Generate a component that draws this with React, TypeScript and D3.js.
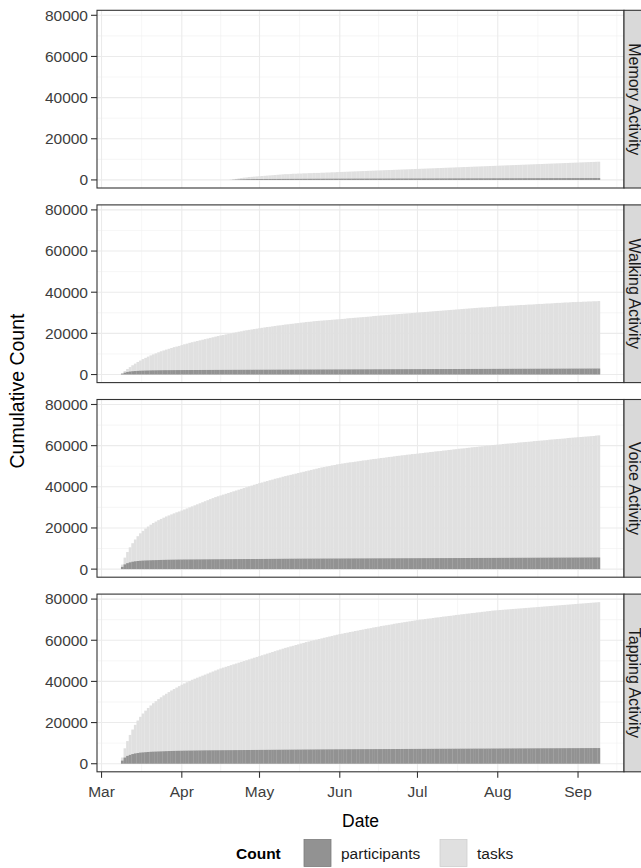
import React from "react";
import * as d3 from "d3";

// ---------------- data ----------------
const activityNames = ["Memory Activity", "Walking Activity", "Voice Activity", "Tapping Activity"];
const activityStarts = ["2015-04-20", "2015-03-09", "2015-03-09", "2015-03-09"];
const countLevels = ["participants", "tasks"];

const memoryTasks = [
  100, 300, 500, 700, 900, 1100, 1200, 1400, 1500, 1600, 1700,
  1800, 1900, 2000, 2100, 2200, 2300, 2400, 2500, 2600, 2700, 2800, 2800, 2900, 3000, 3000, 3100, 3100, 3200, 3200, 3300, 3300, 3400, 3400, 3400, 3500, 3500, 3600, 3600, 3700, 3700, 3800,
  3850, 3900, 3950, 4000, 4050, 4100, 4150, 4200, 4250, 4300, 4350, 4400, 4450, 4500, 4550, 4600, 4650, 4700, 4750, 4800, 4850, 4900, 4950, 5000, 5050, 5100, 5150, 5200, 5250, 5300,
  5350, 5400, 5450, 5500, 5550, 5600, 5650, 5700, 5750, 5800, 5850, 5900, 5950, 6000, 6050, 6100, 6150, 6200, 6250, 6300, 6350, 6400, 6450, 6500, 6550, 6600, 6650, 6700, 6750, 6800, 6850,
  6900, 6950, 7000, 7050, 7100, 7150, 7200, 7250, 7300, 7350, 7400, 7450, 7500, 7550, 7600, 7650, 7700, 7750, 7800, 7850, 7900, 7950, 8000, 8050, 8100, 8150, 8200, 8250, 8300, 8350, 8400,
  8450, 8500, 8550, 8600, 8650, 8700, 8750, 8800, 8850,
];
const memoryParticipants = [
  30, 100, 170, 230, 280, 320, 350, 380, 400, 420, 440,
  450, 455, 460, 465, 470, 475, 480, 485, 490, 495, 500, 505, 510, 515, 520, 525, 530, 535, 540, 545, 550, 555, 560, 565, 570, 575, 580, 585, 590, 595, 600,
  603, 606, 609, 612, 615, 618, 621, 624, 627, 630, 633, 636, 639, 642, 645, 648, 651, 654, 657, 660, 663, 666, 669, 672, 675, 678, 681, 684, 687, 690,
  693, 696, 699, 702, 705, 708, 711, 714, 717, 720, 723, 726, 729, 732, 735, 738, 741, 744, 747, 750, 753, 756, 759, 762, 765, 768, 771, 774, 777, 780, 783,
  786, 789, 792, 795, 798, 801, 804, 807, 810, 813, 816, 819, 822, 825, 828, 831, 834, 837, 840, 843, 846, 849, 852, 855, 858, 861, 864, 867, 870, 873, 876,
  879, 882, 885, 888, 891, 894, 897, 900, 903,
];

const walkingTasks = [
  600, 1700, 2700, 3600, 4500, 5300, 6100, 6800, 7500, 8100, 8700, 9300, 9800, 10300, 10800, 11300, 11700, 12100, 12500, 12900, 13300, 13600, 13900,
  14300, 14700, 15000, 15400, 15700, 16000, 16300, 16600, 16900, 17200, 17500, 17800, 18100, 18400, 18700, 19000, 19200, 19500, 19800, 20000, 20300, 20500, 20800, 21000, 21300, 21500, 21700, 21900, 22100, 22300,
  22500, 22700, 22900, 23100, 23200, 23400, 23600, 23800, 23900, 24100, 24300, 24400, 24600, 24700, 24900, 25000, 25200, 25300, 25500, 25600, 25700, 25900, 26000, 26100, 26200, 26300, 26400, 26500, 26600, 26700, 26800,
  26900, 27000, 27100, 27300, 27400, 27500, 27600, 27700, 27800, 27900, 28000, 28100, 28200, 28400, 28500, 28600, 28700, 28800, 28900, 29000, 29100, 29200, 29300, 29400, 29500, 29600, 29700, 29800, 29900, 30000,
  30100, 30200, 30300, 30400, 30500, 30600, 30700, 30800, 30900, 31000, 31100, 31200, 31300, 31400, 31500, 31600, 31700, 31800, 31900, 32000, 32100, 32200, 32300, 32400, 32500, 32600, 32600, 32700, 32800, 32900, 33000,
  33100, 33200, 33200, 33300, 33400, 33500, 33500, 33600, 33700, 33800, 33800, 33900, 34000, 34000, 34100, 34200, 34300, 34300, 34400, 34500, 34500, 34600, 34700, 34800, 34800, 34900, 35000, 35000, 35100, 35200, 35200,
  35300, 35300, 35400, 35400, 35500, 35500, 35600, 35600, 35700,
];
const walkingParticipants = [
  400, 900, 1250, 1450, 1600, 1700, 1780, 1840, 1890, 1930, 1970, 2000, 2020, 2040, 2060, 2080, 2100, 2110, 2120, 2130, 2140, 2150, 2160,
  2170, 2175, 2180, 2185, 2190, 2195, 2200, 2205, 2210, 2215, 2220, 2225, 2230, 2235, 2240, 2245, 2250, 2255, 2260, 2265, 2270, 2275, 2280, 2285, 2290, 2295, 2300, 2305, 2310, 2315,
  2320, 2325, 2330, 2335, 2340, 2345, 2350, 2355, 2360, 2365, 2370, 2375, 2380, 2385, 2390, 2395, 2400, 2405, 2410, 2415, 2420, 2425, 2430, 2435, 2440, 2445, 2450, 2455, 2460, 2465, 2470,
  2475, 2480, 2485, 2490, 2495, 2500, 2505, 2510, 2515, 2520, 2525, 2530, 2535, 2540, 2545, 2550, 2555, 2560, 2565, 2570, 2575, 2580, 2585, 2590, 2595, 2600, 2605, 2610, 2615, 2620,
  2624, 2628, 2632, 2636, 2640, 2644, 2648, 2652, 2656, 2660, 2664, 2668, 2672, 2676, 2680, 2684, 2688, 2692, 2696, 2700, 2704, 2708, 2712, 2716, 2720, 2724, 2728, 2732, 2736, 2740, 2744,
  2748, 2752, 2756, 2760, 2764, 2768, 2772, 2776, 2780, 2784, 2788, 2792, 2796, 2800, 2804, 2808, 2812, 2816, 2820, 2824, 2828, 2832, 2836, 2840, 2844, 2848, 2852, 2856, 2860, 2864, 2868,
  2872, 2876, 2880, 2884, 2888, 2892, 2896, 2900, 2904,
];

const voiceTasks = [
  2200, 5600, 8300, 10600, 12600, 14400, 16000, 17400, 18600, 19700, 20700, 21600, 22400, 23100, 23800, 24400, 25000, 25600, 26100, 26600, 27100, 27600, 28000,
  28500, 29000, 29500, 30000, 30500, 31000, 31500, 32000, 32500, 33000, 33500, 34000, 34500, 35000, 35400, 35800, 36200, 36600, 37000, 37400, 37800, 38200, 38600, 39000, 39400, 39800, 40200, 40600, 41000, 41400,
  41800, 42100, 42500, 42800, 43200, 43500, 43900, 44200, 44500, 44900, 45200, 45500, 45800, 46100, 46400, 46700, 47000, 47300, 47600, 47900, 48200, 48500, 48800, 49100, 49400, 49600, 49900, 50100, 50400, 50600, 50900,
  51100, 51300, 51500, 51700, 51900, 52000, 52200, 52400, 52600, 52800, 52900, 53100, 53300, 53500, 53600, 53800, 54000, 54100, 54300, 54500, 54600, 54800, 55000, 55100, 55300, 55400, 55600, 55700, 55900, 56000,
  56100, 56300, 56400, 56600, 56700, 56900, 57000, 57200, 57300, 57400, 57600, 57700, 57900, 58000, 58200, 58300, 58500, 58600, 58700, 58900, 59000, 59200, 59300, 59400, 59600, 59700, 59900, 60000, 60100, 60300, 60400,
  60500, 60600, 60800, 60900, 61000, 61100, 61200, 61300, 61500, 61600, 61700, 61800, 61900, 62000, 62200, 62300, 62400, 62500, 62600, 62700, 62900, 63000, 63100, 63200, 63300, 63400, 63500, 63700, 63800, 63900, 64000,
  64100, 64200, 64300, 64400, 64500, 64600, 64700, 64900, 65000,
];
const voiceParticipants = [
  1100, 2300, 2900, 3300, 3600, 3800, 3950, 4050, 4150, 4200, 4250, 4300, 4340, 4380, 4420, 4460, 4490, 4520, 4550, 4580, 4600, 4620, 4640,
  4660, 4670, 4680, 4690, 4700, 4710, 4720, 4730, 4740, 4750, 4760, 4770, 4780, 4790, 4800, 4810, 4820, 4830, 4840, 4850, 4860, 4870, 4880, 4890, 4900, 4905, 4910, 4915, 4920, 4925,
  4930, 4940, 4950, 4960, 4970, 4980, 4990, 5000, 5010, 5020, 5030, 5040, 5050, 5060, 5070, 5080, 5085, 5090, 5095, 5100, 5105, 5110, 5115, 5120, 5125, 5130, 5135, 5140, 5145, 5150, 5155,
  5160, 5165, 5170, 5175, 5180, 5185, 5190, 5195, 5200, 5205, 5210, 5215, 5220, 5225, 5230, 5235, 5240, 5245, 5250, 5255, 5260, 5265, 5270, 5275, 5280, 5285, 5290, 5295, 5300, 5305,
  5310, 5315, 5320, 5325, 5330, 5335, 5340, 5345, 5350, 5355, 5360, 5365, 5370, 5375, 5380, 5385, 5390, 5395, 5400, 5405, 5410, 5415, 5420, 5425, 5430, 5435, 5440, 5445, 5450, 5455, 5460,
  5465, 5470, 5475, 5480, 5485, 5490, 5495, 5500, 5505, 5510, 5515, 5520, 5525, 5530, 5535, 5540, 5545, 5550, 5555, 5560, 5565, 5570, 5575, 5580, 5585, 5590, 5595, 5600, 5605, 5610, 5615,
  5620, 5625, 5630, 5635, 5640, 5645, 5650, 5655, 5660,
];

const tappingTasks = [
  3000, 7500, 11000, 14000, 16600, 18900, 21000, 22800, 24400, 25800, 27100, 28300, 29400, 30400, 31400, 32300, 33200, 34000, 34800, 35600, 36300, 37000, 37700,
  38400, 39000, 39600, 40200, 40800, 41300, 41800, 42300, 42800, 43300, 43800, 44300, 44800, 45300, 45800, 46300, 46700, 47100, 47500, 47900, 48300, 48700, 49100, 49500, 49900, 50300, 50700, 51100, 51500, 51900,
  52300, 52700, 53100, 53500, 53900, 54300, 54700, 55100, 55500, 55900, 56300, 56600, 57000, 57300, 57700, 58000, 58400, 58700, 59100, 59400, 59700, 60000, 60300, 60600, 60900, 61200, 61500, 61800, 62100, 62400, 62700,
  63000, 63200, 63500, 63700, 64000, 64200, 64500, 64700, 65000, 65200, 65500, 65700, 65900, 66200, 66400, 66600, 66900, 67100, 67300, 67500, 67700, 68000, 68200, 68400, 68600, 68800, 69000, 69200, 69400, 69600,
  69800, 70000, 70100, 70300, 70500, 70600, 70800, 71000, 71100, 71300, 71500, 71600, 71800, 71900, 72100, 72300, 72400, 72600, 72700, 72900, 73000, 73200, 73300, 73500, 73600, 73800, 73900, 74100, 74200, 74400, 74500,
  74600, 74700, 74800, 74900, 75000, 75100, 75200, 75300, 75400, 75500, 75600, 75700, 75800, 75900, 76000, 76100, 76200, 76300, 76400, 76500, 76600, 76700, 76800, 76900, 77000, 77100, 77200, 77300, 77400, 77500, 77600,
  77700, 77800, 77900, 78000, 78100, 78200, 78300, 78400, 78500,
];
const tappingParticipants = [
  1500, 3000, 3800, 4300, 4700, 5000, 5200, 5400, 5500, 5600, 5700, 5800, 5850, 5900, 5950, 6000, 6050, 6100, 6150, 6200, 6230, 6260, 6290,
  6320, 6340, 6360, 6380, 6400, 6420, 6440, 6460, 6480, 6500, 6510, 6520, 6530, 6540, 6550, 6560, 6570, 6580, 6590, 6600, 6610, 6620, 6630, 6640, 6650, 6660, 6670, 6680, 6690, 6700,
  6710, 6720, 6730, 6740, 6750, 6760, 6770, 6780, 6790, 6800, 6810, 6820, 6830, 6840, 6850, 6860, 6870, 6880, 6890, 6900, 6910, 6920, 6930, 6940, 6950, 6960, 6970, 6980, 6990, 7000, 7010,
  7020, 7026, 7032, 7038, 7044, 7050, 7056, 7062, 7068, 7074, 7080, 7086, 7092, 7098, 7104, 7110, 7116, 7122, 7128, 7134, 7140, 7146, 7152, 7158, 7164, 7170, 7176, 7182, 7188, 7194,
  7200, 7206, 7212, 7218, 7224, 7230, 7236, 7242, 7248, 7254, 7260, 7266, 7272, 7278, 7284, 7290, 7296, 7302, 7308, 7314, 7320, 7326, 7332, 7338, 7344, 7350, 7356, 7362, 7368, 7374, 7380,
  7386, 7392, 7398, 7404, 7410, 7416, 7422, 7428, 7434, 7440, 7446, 7452, 7458, 7464, 7470, 7476, 7482, 7488, 7494, 7500, 7506, 7512, 7518, 7524, 7530, 7536, 7542, 7548, 7554, 7560, 7566,
  7572, 7578, 7584, 7590, 7596, 7602, 7608, 7614, 7620,
];

const yTickValues = [0, 20000, 40000, 60000, 80000];
const yMinorValues = [10000, 30000, 50000, 70000];
const xTickDates = ["2015-03-01", "2015-04-01", "2015-05-01", "2015-06-01", "2015-07-01", "2015-08-01", "2015-09-01"];
const xTickLabels = ["Mar", "Apr", "May", "Jun", "Jul", "Aug", "Sep"];
const xMinorDates = ["2015-03-16T12:00", "2015-04-16", "2015-05-16T12:00", "2015-06-16", "2015-07-16T12:00", "2015-08-16T12:00", "2015-09-16"];

const tasksByActivity = [memoryTasks, walkingTasks, voiceTasks, tappingTasks];
const participantsByActivity = [memoryParticipants, walkingParticipants, voiceParticipants, tappingParticipants];

// ---------------- layout ----------------
const W = 641;
const H = 868;
const PL = 97;
const PR = 624;
const PT0 = 10.3;
const PH = 177.7;
const PSTEP = 194.6;
const FONT = "'Liberation Sans', Arial, Helvetica, sans-serif";
const COL_PART = "#929292";
const COL_TASK = "#e0e0e0";

const parseD = (s: string) => {
  const p = s.includes("T") ? d3.timeParse("%Y-%m-%dT%H:%M")(s) : d3.timeParse("%Y-%m-%d")(s);
  return p as Date;
};

export default function App() {
  const DAY = 86400000;
  const half = 0.5 * DAY;

  const series = activityNames.map((name, k) => {
    const start = parseD(activityStarts[k]);
    const tasks = tasksByActivity[k];
    const parts = participantsByActivity[k];
    const n = Math.min(tasks.length, parts.length);
    const rows = d3.range(n).map((i) => ({
      date: d3.timeDay.offset(start, i),
      tasks: tasks[i],
      participants: parts[i],
    }));
    return { name, rows };
  });

  const allRows = series.flatMap((s) => s.rows);
  const dMin = +d3.min(allRows, (r) => r.date)! - half;
  const dMax = +d3.max(allRows, (r) => r.date)! + half;
  const dExp = (dMax - dMin) * 0.05;
  const x = d3.scaleTime().domain([new Date(dMin - dExp), new Date(dMax + dExp)]).range([PL, PR]);

  const vMax = d3.max(allRows, (r) => Math.max(r.tasks, r.participants))!;
  const vExp = vMax * 0.05;

  const xMajor = xTickDates.map(parseD);
  const xMinor = xMinorDates.map(parseD).filter((d) => x(d) > PL && x(d) < PR);

  const barX = (d: Date) => x(new Date(+d - half));
  const barW = (d: Date) => x(new Date(+d + half)) - x(new Date(+d - half)) + 0.15;

  const panels = series.map((s, k) => {
    const top = PT0 + k * PSTEP;
    const y = d3.scaleLinear().domain([-vExp, vMax + vExp]).range([top + PH, top]);
    const y0 = y(0);
    return (
      <g key={s.name}>
        <rect x={PL} y={top} width={PR - PL} height={PH} fill="#ffffff" />
        {yMinorValues.map((v) => (
          <line key={"ym" + v} x1={PL} x2={PR} y1={y(v)} y2={y(v)} stroke="#f0f0f0" strokeWidth={0.6} />
        ))}
        {xMinor.map((d, i) => (
          <line key={"xm" + i} x1={x(d)} x2={x(d)} y1={top} y2={top + PH} stroke="#f0f0f0" strokeWidth={0.6} />
        ))}
        {yTickValues.map((v) => (
          <line key={"yM" + v} x1={PL} x2={PR} y1={y(v)} y2={y(v)} stroke="#ebebeb" strokeWidth={1.1} />
        ))}
        {xMajor.map((d, i) => (
          <line key={"xM" + i} x1={x(d)} x2={x(d)} y1={top} y2={top + PH} stroke="#ebebeb" strokeWidth={1.1} />
        ))}
        {s.rows.map((r, i) => (
          <rect key={"t" + i} x={barX(r.date)} width={barW(r.date)} y={y(r.tasks)} height={y0 - y(r.tasks)} fill={COL_TASK} />
        ))}
        {s.rows.map((r, i) => (
          <rect
            key={"p" + i}
            x={barX(r.date)}
            width={barW(r.date)}
            y={y(r.participants)}
            height={y0 - y(r.participants)}
            fill={COL_PART}
          />
        ))}
        <rect x={PL} y={top} width={PR - PL} height={PH} fill="none" stroke="#333333" strokeWidth={1.1} />
        {/* strip */}
        <rect x={PR} y={top} width={30} height={PH} fill="#d9d9d9" stroke="#333333" strokeWidth={1.1} />
        <text
          transform={`translate(629,${top + PH / 2}) rotate(90)`}
          textAnchor="middle"
          fontSize={16}
          fill="#1a1a1a"
          fontFamily={FONT}
        >
          {s.name}
        </text>
        {/* y axis */}
        {yTickValues.map((v) => (
          <g key={"yt" + v}>
            <line x1={PL - 6} x2={PL} y1={y(v)} y2={y(v)} stroke="#333333" strokeWidth={1.1} />
            <text x={PL - 9} y={y(v) + 5.4} textAnchor="end" fontSize={15.5} fill="#3d3d3d" fontFamily={FONT}>
              {v}
            </text>
          </g>
        ))}
      </g>
    );
  });

  const bottom = PT0 + 3 * PSTEP + PH;
  const legendY = 853;
  const keySize = 27;

  return (
    <svg
      width={W}
      height={H}
      viewBox={`0 0 ${W} ${H}`}
      style={{ position: "absolute", left: 0, top: 0, background: "#ffffff" }}
    >
      <rect x={0} y={0} width={W} height={H} fill="#ffffff" />
      {panels}
      {/* x axis */}
      {xMajor.map((d, i) => (
        <g key={"xt" + i}>
          <line x1={x(d)} x2={x(d)} y1={bottom} y2={bottom + 6} stroke="#333333" strokeWidth={1.1} />
          <text x={x(d)} y={bottom + 25} textAnchor="middle" fontSize={15.5} fill="#3d3d3d" fontFamily={FONT}>
            {xTickLabels[i]}
          </text>
        </g>
      ))}
      <text x={(PL + PR) / 2} y={827} textAnchor="middle" fontSize={17.5} fill="#000000" fontFamily={FONT}>
        Date
      </text>
      <text
        transform={`translate(24,${(PT0 + bottom) / 2}) rotate(-90)`}
        textAnchor="middle"
        fontSize={19.5}
        fill="#000000"
        fontFamily={FONT}
      >
        Cumulative Count
      </text>
      {/* legend */}
      <text x={236} y={legendY + 5.5} fontSize={15.5} fontWeight="bold" fill="#000000" fontFamily={FONT}>
        Count
      </text>
      <rect x={304} y={legendY - keySize / 2} width={keySize} height={keySize} fill={COL_PART} stroke="#7d7d7d" strokeWidth={0.8} />
      <text x={341} y={legendY + 5.5} fontSize={15.5} fill="#1a1a1a" fontFamily={FONT}>
        {countLevels[0]}
      </text>
      <rect x={440} y={legendY - keySize / 2} width={keySize} height={keySize} fill={COL_TASK} stroke="#cfcfcf" strokeWidth={0.8} />
      <text x={477} y={legendY + 5.5} fontSize={15.5} fill="#1a1a1a" fontFamily={FONT}>
        {countLevels[1]}
      </text>
    </svg>
  );
}
